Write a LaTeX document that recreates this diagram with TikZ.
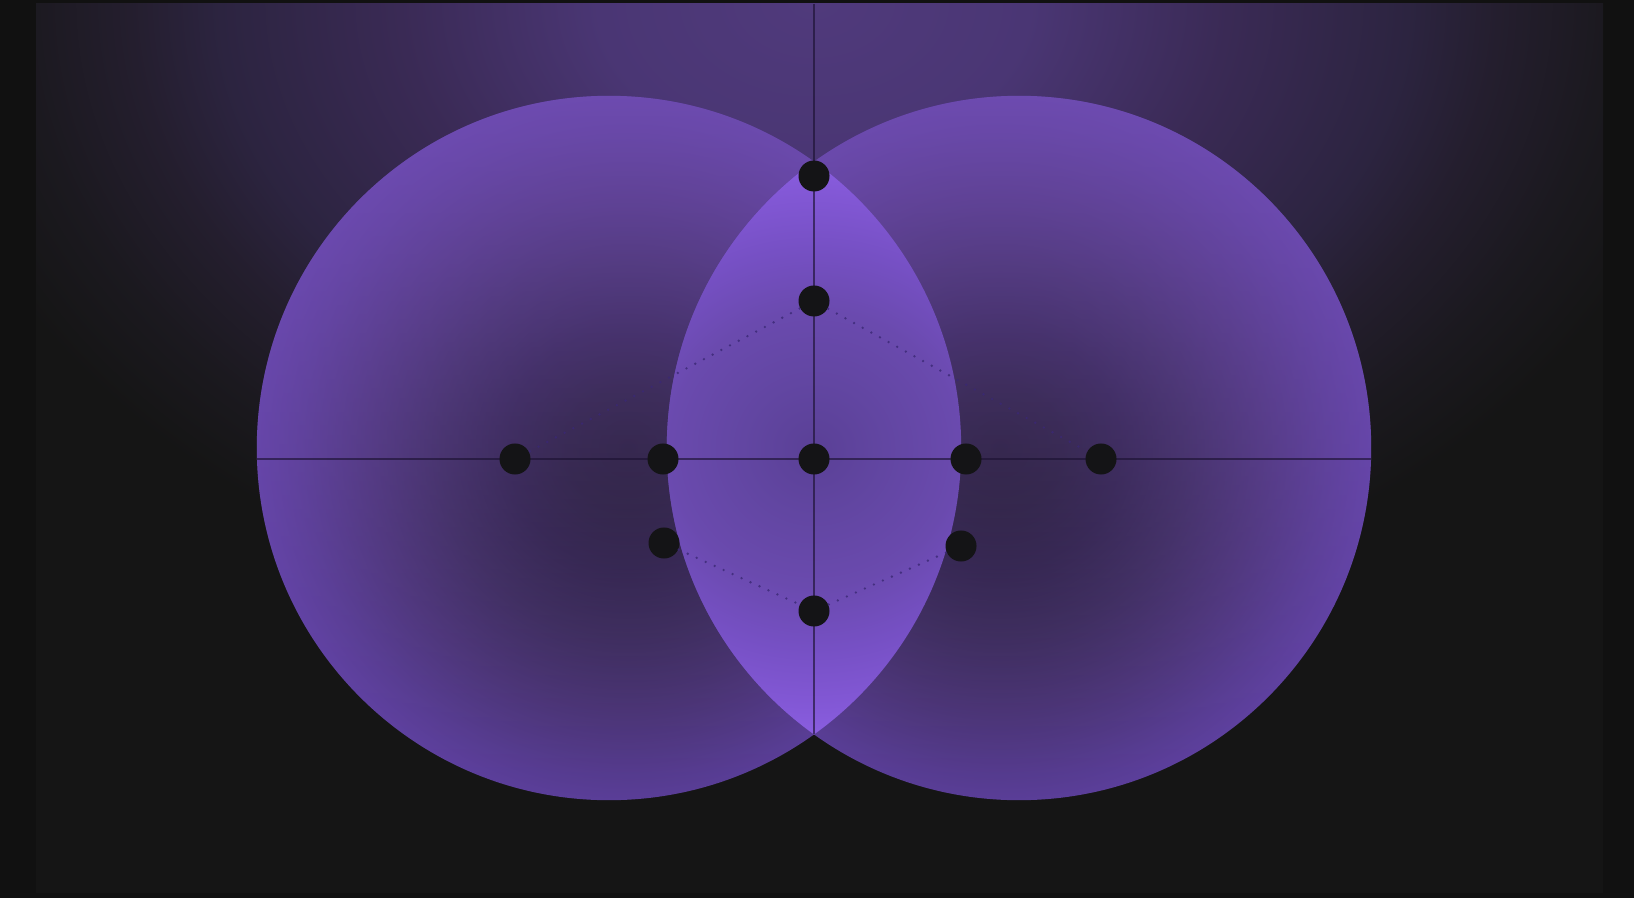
\documentclass[tikz,border=0pt]{standalone}
\usetikzlibrary{fadings}
\definecolor{outerbg}{HTML}{111111}
\definecolor{innerbg}{HTML}{151515}
\definecolor{g0}{HTML}{503A7C}
\definecolor{g1}{HTML}{4A3674}
\definecolor{g2}{HTML}{3A2A55}
\definecolor{g3}{HTML}{2C2440}
\definecolor{g4}{HTML}{241E2E}
\definecolor{g5}{HTML}{1B191F}
\definecolor{c0}{HTML}{1A1620}
\definecolor{c1}{HTML}{1E1927}
\definecolor{c2}{HTML}{261D38}
\definecolor{c3}{HTML}{35284F}
\definecolor{c4}{HTML}{47326F}
\definecolor{c5}{HTML}{553B8E}
\definecolor{c6}{HTML}{5E40A0}
\definecolor{hlcol}{HTML}{7A54C0}
\definecolor{l0}{HTML}{5A4096}
\definecolor{l1}{HTML}{6246A2}
\definecolor{l2}{HTML}{6A4AAE}
\definecolor{l3}{HTML}{7650C4}
\definecolor{l4}{HTML}{8358D6}
\definecolor{l5}{HTML}{8A5EE0}
\definecolor{dotfill}{HTML}{141416}
\definecolor{linecol}{HTML}{1C1232}
\definecolor{dotline}{HTML}{3A2874}
% the bounding box half-size of a shaded path corresponds to 25bp
\pgfdeclareradialshading{glow}{\pgfpoint{0bp}{0bp}}{color(0bp)=(g0); color(6bp)=(g1); color(11.5bp)=(g2); color(16.5bp)=(g3); color(19bp)=(g4); color(22bp)=(g5); color(25bp)=(innerbg); color(50bp)=(innerbg)}
\pgfdeclareradialshading{circ}{\pgfpoint{0bp}{0bp}}{color(0bp)=(c0); color(4bp)=(c1); color(8bp)=(c2); color(12.5bp)=(c3); color(17.5bp)=(c4); color(22bp)=(c5); color(25bp)=(c6); color(50bp)=(c6)}
\pgfdeclareradialshading{lens}{\pgfpoint{0bp}{0bp}}{color(0bp)=(l0); color(6bp)=(l1); color(12bp)=(l2); color(17.5bp)=(l3); color(22.5bp)=(l4); color(25bp)=(l5); color(50bp)=(l5)}
\tikzfading[name=tophl, top color=transparent!40, middle color=transparent!100, bottom color=transparent!100]
\tikzset{
  dotnode/.style={circle, fill=dotfill, minimum size=0.31cm, inner sep=0pt},
  axisline/.style={draw=linecol, draw opacity=0.65, line width=0.6pt},
  dotted guide/.style={draw=dotline, draw opacity=0.8, line width=0.75pt, line cap=round, dash pattern=on 0pt off 2.8pt},
  tophighlight/.style={fill=hlcol, path fading=tophl}
}
\begin{document}
\begin{tikzpicture}[x=0.01cm, y=-0.01cm]
\useasboundingbox (0,0) rectangle (1634,898);
% backgrounds
\fill[outerbg] (0,0) rectangle (1634,898);
\fill[innerbg] (36,4) rectangle (1603,893);
\begin{scope}
  \clip (36,4) rectangle (1603,893);
  \shade[shading=glow] (-86,-640) rectangle (1714,640);
\end{scope}
% left circle
\begin{scope}
  \clip (609,448) circle[radius=3.52cm];
  \shade[shading=circ] (628,448) circle[radius=3.72cm];
\end{scope}
\fill[tophighlight] (609,448) circle[radius=3.52cm];
% right circle
\begin{scope}
  \clip (1019,448) circle[radius=3.52cm];
  \shade[shading=circ] (1000,448) circle[radius=3.72cm];
\end{scope}
\fill[tophighlight] (1019,448) circle[radius=3.52cm];
% lens
\begin{scope}
  \clip (609,448) circle[radius=3.52cm];
  \clip (1019,448) circle[radius=3.52cm];
  \shade[shading=lens] (514,162) rectangle (1114,735);
\end{scope}
% axis coordinates
\coordinate (vtop) at (814,4);
\coordinate (vbot) at (814,734);
\coordinate (hleft) at (257,459);
\coordinate (hright) at (1371,459);
\draw[axisline] (vtop) -- (vbot);
\draw[axisline] (hleft) -- (hright);
% dot nodes
\node[dotnode] (dtop) at (814,176) {};
\node[dotnode] (dup) at (814,301) {};
\node[dotnode] (dc) at (814,459) {};
\node[dotnode] (dli) at (663,459) {};
\node[dotnode] (dri) at (966,459) {};
\node[dotnode] (dlo) at (515,459) {};
\node[dotnode] (dro) at (1101,459) {};
\node[dotnode] (dll) at (664,543) {};
\node[dotnode] (dlr) at (961,546) {};
\node[dotnode] (db) at (814,611) {};
% dotted guides
\draw[dotted guide] (dup) -- (dlo);
\draw[dotted guide] (dup) -- (dro);
\draw[dotted guide] (dll) -- (db) -- (dlr);
\end{tikzpicture}
\end{document}
